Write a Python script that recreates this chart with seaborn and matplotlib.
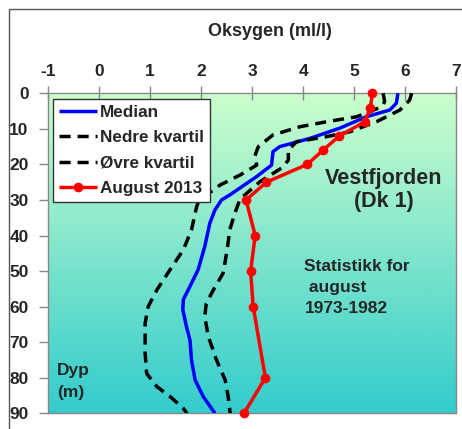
import numpy as np
import pandas as pd
import matplotlib
matplotlib.use("Agg")
import matplotlib.pyplot as plt
import seaborn as sns
from matplotlib.colors import LinearSegmentedColormap
from matplotlib.patches import Rectangle

# ---- data ----
median_x = [5.86, 5.83, 5.70, 5.24, 4.72, 4.13, 3.54, 3.41, 3.38, 3.09, 2.56, 2.40, 2.27,
            2.17, 2.07, 1.94, 1.78, 1.65, 1.64, 1.71, 1.78, 1.81, 1.88, 2.04, 2.27]
median_d = [0, 2.8, 4.7, 6.6, 9.8, 12.7, 15, 16.4, 20.2, 23.4, 28.6, 30, 32.8,
            36.5, 43.1, 49.6, 54.3, 58, 60.9, 65.6, 69.4, 75, 80.6, 85.3, 90]

nedre_x = [5.57, 5.60, 5.54, 5.05, 4.46, 3.94, 3.41, 3.12, 3.05, 3.09, 2.76, 2.37, 2.24,
           1.96, 1.91, 1.81, 1.65, 1.39, 1.13, 0.96, 0.90, 0.90, 0.93, 1.13, 1.39, 1.65,
           1.72]
nedre_d = [0, 2.3, 3.8, 6.6, 8, 9.4, 11.7, 15, 17.8, 20.2, 23, 25.8, 27.2,
           30, 31.9, 38.4, 44, 49.6, 55.3, 60, 64.7, 73.1, 78.8, 82.5, 85.3, 88.6,
           90]

ovre_x = [6.13, 6.09, 5.90, 5.44, 4.92, 4.46, 3.87, 3.71, 3.71, 3.58, 3.15, 2.76, 2.66,
          2.56, 2.51, 2.43, 2.24, 2.10, 2.07, 2.14, 2.30, 2.47, 2.53, 2.56, 2.57]
ovre_d = [0, 1.9, 4.7, 8, 10.8, 12.2, 13.6, 16, 18.8, 21, 24.9, 29.8, 33.8,
          38.4, 44, 50.6, 55.3, 59.1, 62.8, 68.4, 75, 80.6, 85.3, 89, 90]

aug_x = [5.36, 5.32, 5.21, 4.71, 4.39, 4.08, 3.28, 2.88, 3.06, 2.97, 3.02, 3.26, 2.84]
aug_d = [0, 4, 8, 12, 16, 20, 25, 30, 40, 50, 60, 80, 90]

x_ticks = [-1, 0, 1, 2, 3, 4, 5, 6, 7]
y_ticks = [0, 10, 20, 30, 40, 50, 60, 70, 80, 90]

labels = ["Median", "Nedre kvartil", "Øvre kvartil", "August 2013"]

# ---- figure ----
sns.set_theme(style="white")
plt.rcParams["font.family"] = ["Liberation Sans", "DejaVu Sans"]
plt.rcParams["font.weight"] = "bold"
plt.rcParams["axes.unicode_minus"] = False

fig = plt.figure(figsize=(4.62, 4.29), dpi=100)
W, H = 462, 429
ax = fig.add_axes([48.3 / W, 1 - 413.3 / H, (456 - 48.3) / W, (413.3 - 93.3) / H])

# outer frame of the figure
fig.patches.append(Rectangle((9 / W, -0.1), 1.2, 1 - 9 / H + 0.1, transform=fig.transFigure,
                             fill=False, edgecolor="#555555", linewidth=1.0, zorder=0))

# gradient background
cmap = LinearSegmentedColormap.from_list("bg", ["#CCFFCC", "#33CCCC"])
grad = np.linspace(0, 1, 256).reshape(-1, 1)
ax.imshow(grad, extent=[0, 1, 0, 1], transform=ax.transAxes, aspect="auto",
          cmap=cmap, origin="upper", zorder=0)

lw = 2.5
dash = (0, (3.2, 2.0))
common = dict(sort=False, estimator=None, ax=ax, linewidth=lw,
              solid_joinstyle="round", solid_capstyle="butt")
sns.lineplot(data=pd.DataFrame({"x": median_x, "d": median_d}), x="x", y="d",
             color="#0000FF", label=labels[0], zorder=3, **common)
sns.lineplot(data=pd.DataFrame({"x": nedre_x, "d": nedre_d}), x="x", y="d",
             color="black", linestyle=dash, label=labels[1], zorder=3, **common)
sns.lineplot(data=pd.DataFrame({"x": ovre_x, "d": ovre_d}), x="x", y="d",
             color="black", linestyle=dash, label=labels[2], zorder=3, **common)
sns.lineplot(data=pd.DataFrame({"x": aug_x, "d": aug_d}), x="x", y="d",
             color="#FF0000", marker="o", markersize=7, markeredgecolor="#FF0000",
             markeredgewidth=0, label=labels[3], zorder=4, clip_on=False, **common)

ax.set_xlim(-1, 7)
ax.set_ylim(90, 0)
ax.set_xticks(x_ticks)
ax.set_yticks(y_ticks)
ax.xaxis.tick_top()
ax.xaxis.set_label_position("top")
ax.set_xlabel("")
ax.set_ylabel("")
ax.tick_params(axis="x", direction="inout", length=10, width=1, color="#888888",
               labelsize=12.5, pad=5)
ax.tick_params(axis="y", direction="out", length=6.6, width=1, color="#888888",
               labelsize=12.5, pad=7.5, left=True)
for lab in ax.get_xticklabels() + ax.get_yticklabels():
    lab.set_fontweight("bold")
for s in ax.spines.values():
    s.set_color("#888888")
    s.set_linewidth(1)

fig.text(270 / W, 1 - 31 / H, "Oksygen (ml/l)", ha="center", va="center",
         fontsize=13, fontweight="bold")

ax.text(5.58, 25.5, "Vestfjorden", ha="center", va="baseline", fontsize=15.5,
        fontweight="bold")
ax.text(5.58, 31.9, "(Dk 1)", ha="center", va="baseline", fontsize=15.5,
        fontweight="bold")
ax.text(4.02, 50.0, "Statistikk for", ha="left", va="baseline", fontsize=12.5,
        fontweight="bold")
ax.text(4.02, 55.8, " august", ha="left", va="baseline", fontsize=12.5,
        fontweight="bold")
ax.text(4.03, 61.9, "1973-1982", ha="left", va="baseline", fontsize=12.5,
        fontweight="bold")
ax.text(-0.83, 79.2, "Dyp", ha="left", va="baseline", fontsize=12.5, fontweight="bold")
ax.text(-0.83, 85.3, "(m)", ha="left", va="baseline", fontsize=12.5, fontweight="bold")

leg = ax.legend(loc="upper left", bbox_to_anchor=(0.0115, 0.982), borderaxespad=0,
                frameon=True, fancybox=False, edgecolor="#333333", facecolor="white",
                framealpha=1, prop={"weight": "bold", "size": 12.3},
                handlelength=2.2, handletextpad=0.2, labelspacing=0.6,
                borderpad=0.35)
leg.get_frame().set_linewidth(1)
leg.set_zorder(5)

fig.savefig("out.png", dpi=100)
